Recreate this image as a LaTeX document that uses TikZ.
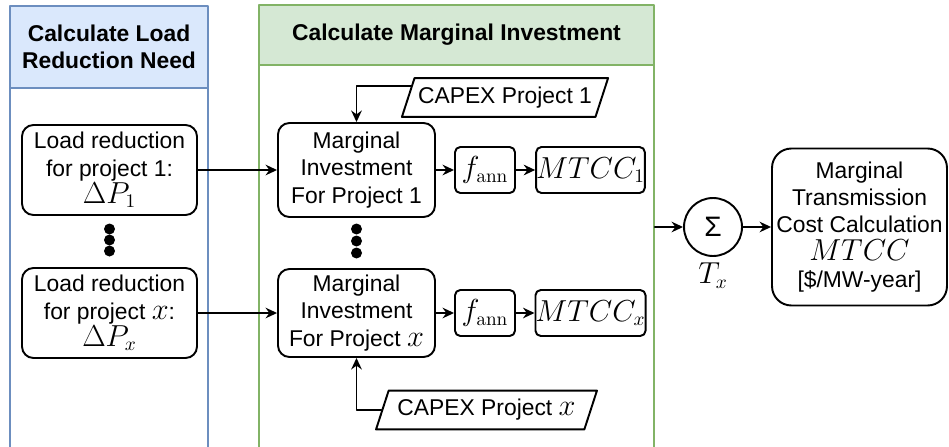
\documentclass[tikz,border=0pt]{standalone}
\usepackage[no-math]{fontspec}
\setmainfont{Liberation Sans}
\usetikzlibrary{arrows.meta,shapes.geometric}
\definecolor{bluefill}{HTML}{DAE8FC}
\definecolor{blueline}{HTML}{6C8EBF}
\definecolor{greenfill}{HTML}{D5E8D4}
\definecolor{greenline}{HTML}{82B366}
\newcommand{\mth}[1]{{\fontsize{16}{16}\selectfont$#1$}}
\tikzset{
  box/.style={draw,rounded corners=6.5pt,line width=1.1pt,align=center,inner sep=0pt},
  smallbox/.style={draw,rounded corners=3pt,line width=1.1pt,minimum height=0.92cm,inner sep=0pt},
  capexbox/.style={draw,trapezium,trapezium left angle=72,trapezium right angle=108,line width=1.1pt,inner xsep=2pt,inner ysep=5pt},
  lanehead/.style={draw=#1line,fill=#1fill,line width=1.1pt,font=\fontsize{13}{15.5}\selectfont\bfseries,align=center,inner sep=0pt},
  lanebody/.style={draw=#1line,line width=1.1pt,inner sep=0pt},
  arr/.style={-{Stealth[length=6.5pt,width=6pt]},line width=1.1pt},
  every picture/.style={line cap=round,line join=round}
}

\begin{document}
\begin{tikzpicture}[x=0.02cm,y=-0.02cm,font=\fontsize{13}{15.5}\selectfont]
  \useasboundingbox (0,0) rectangle (949,446);
  \clip (0,0) rectangle (949,446);
  \node[lanebody=blue,minimum width=3.96cm,minimum height=7.64cm] (loadlane) at (109,279) {};
  \node[lanehead=blue,minimum width=3.96cm,minimum height=1.64cm] (loadhead) at (109,47) {Calculate Load\\Reduction Need};
  \node[lanebody=green,minimum width=7.9cm,minimum height=8.1cm] (marglane) at (456.5,267.5) {};
  \node[lanehead=green,minimum width=7.9cm,minimum height=1.2cm] (marghead) at (456.5,35) {Calculate Marginal Investment};
  \node[box,minimum width=3.5cm,minimum height=1.8cm] (load1) at (109.5,170) {Load reduction\\for project 1:\\\mth{\Delta P_1}};
  \node[box,minimum width=3.5cm,minimum height=1.8cm] (loadx) at (109.5,313) {Load reduction\\for project \mth{x}:\\\mth{\Delta P_x}};
  \node[box,minimum width=3.14cm,minimum height=1.88cm] (mi1) at (356.5,170) {Marginal\\Investment\\For Project 1};
  \node[box,minimum width=3.14cm,minimum height=1.76cm] (mix) at (356.5,313) {Marginal\\Investment\\For Project \mth{x}};
  \node[smallbox,minimum width=1.2cm] (fann1) at (485,170) {\mth{f_{\mathrm{ann}}}};
  \node[smallbox,minimum width=1.2cm] (fannx) at (485,313) {\mth{f_{\mathrm{ann}}}};
  \node[smallbox,minimum width=2.1cm] (mtcc1) at (590.5,170) {\mth{MTCC_1}};
  \node[smallbox,minimum width=2.1cm] (mtccx) at (590.5,313) {\mth{MTCC_x}};
  \node[capexbox] (cap1) at (505,97.5) {CAPEX Project 1};
  \node[capexbox,inner xsep=5pt] (capx) at (486.5,410) {CAPEX Project \mth{x}};
  \node[draw,circle,line width=1.1pt,minimum size=1.16cm,inner sep=0pt,
        label={[label distance=0pt]below:\mth{T_x}}] (sum) at (713,227) {\fontsize{16}{16}\selectfont Σ};
  \node[box,rounded corners=11pt,minimum width=3.5cm,minimum height=3.14cm] (result) at (859.5,227)
    {Marginal\\Transmission\\Cost Calculation\\\mth{MTCC}\\{[}\$/MW-year{]}};
  \foreach \y in {229,240,251} \fill (109.5,\y) circle (0.11cm);
  \foreach \y in {229,241,253} \fill (356.5,\y) circle (0.11cm);
  \draw[arr] (load1) -- (mi1);
  \draw[arr] (loadx) -- (mix);
  \draw[arr] (mi1) -- (fann1);
  \draw[arr] (fann1) -- (mtcc1);
  \draw[arr] (mix) -- (fannx);
  \draw[arr] (fannx) -- (mtccx);
  \draw[arr] (cap1.173) -| (mi1.north);
  \draw[arr] (capx.west) -| (mix.south);
  \draw[arr] (marglane.east |- sum.west) -- (sum);
  \draw[arr] (sum) -- (result);
\end{tikzpicture}
\end{document}
